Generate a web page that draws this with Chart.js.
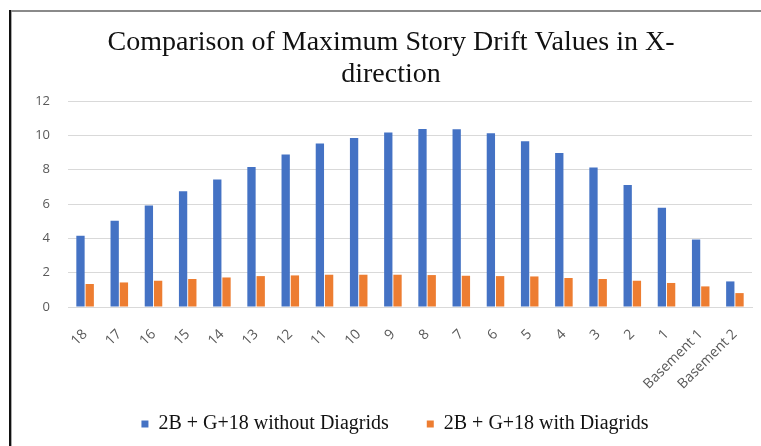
<!DOCTYPE html>
<html lang="en">
<head>
    <meta charset="utf-8">
    <title>Story Drift X</title>
    <script src="https://cdn.jsdelivr.net/npm/chart.js"></script>
    <style>
        body {
            margin: 0;
            background: #fff;
        }
    </style>
</head>
<body>
<canvas id="driftChart" width="761" height="446"></canvas>

<script>
    // data
    const stories = ['18', '17', '16', '15', '14', '13', '12', '11', '10', '9', '8', '7', '6', '5', '4', '3', '2', '1', 'Basement 1', 'Basement 2'];
    const withoutDiagrids = [4.15, 5.02, 5.91, 6.74, 7.42, 8.16, 8.88, 9.52, 9.84, 10.16, 10.37, 10.35, 10.12, 9.65, 8.97, 8.12, 7.11, 5.78, 3.93, 1.49];
    const withDiagrids = [1.34, 1.43, 1.53, 1.63, 1.72, 1.80, 1.84, 1.88, 1.88, 1.88, 1.86, 1.82, 1.80, 1.78, 1.69, 1.63, 1.53, 1.40, 1.20, 0.81];
    const yTicks = [0, 2, 4, 6, 8, 10, 12];
    const titleLines = ['Comparison of Maximum Story Drift Values in X-', 'direction'];

    const serif = '"Liberation Serif", "Times New Roman", serif';
    const sans = '"Open Sans", "Liberation Sans", sans-serif';

    // outer frame, two-line title, legend nudge
    const frameAndTitle = {
        id: 'frameAndTitle',
        afterLayout(chart) {
            // let the rotated labels run past the axis box instead of being clipped
            chart.scales.x.bottom = chart.height;
            chart.legend.left += 19;
            chart.legend.right += 19;
        },
        beforeDraw(chart) {
            const ctx = chart.ctx;
            ctx.save();
            ctx.fillStyle = '#fff';
            ctx.fillRect(0, 0, chart.width, chart.height);
            ctx.fillStyle = '#8a8a8a';
            ctx.fillRect(9, 10, chart.width - 9, 2);
            ctx.fillStyle = '#111';
            ctx.fillRect(9, 10, 2, chart.height - 10);
            ctx.fillStyle = '#aaa';
            ctx.fillRect(11, 12, 1, chart.height - 12);
            ctx.restore();
        },
        afterDraw(chart) {
            const ctx = chart.ctx;
            ctx.save();
            ctx.font = '28px ' + serif;
            ctx.fillStyle = '#111';
            ctx.textBaseline = 'alphabetic';
            ctx.textAlign = 'center';
            ctx.fillText(titleLines[0], 391, 50);
            ctx.fillText(titleLines[1], 391, 82);
            ctx.restore();
        }
    };

    const ctx = document.getElementById('driftChart').getContext('2d');
    new Chart(ctx, {
        type: 'bar',
        data: {
            labels: stories,
            datasets: [{
                label: '2B + G+18 without Diagrids',
                data: withoutDiagrids,
                backgroundColor: '#4472C4',
                categoryPercentage: 0.54,
                barPercentage: 0.9
            }, {
                label: '2B + G+18 with Diagrids',
                data: withDiagrids,
                backgroundColor: '#ED7D31',
                categoryPercentage: 0.54,
                barPercentage: 0.9
            }]
        },
        options: {
            responsive: false,
            animation: false,
            layout: {
                padding: {top: 101, right: 9, left: 0, bottom: 8}
            },
            scales: {
                x: {
                    grid: {display: false},
                    border: {color: '#d9d9d9'},
                    ticks: {
                        color: '#595959',
                        font: {family: sans, size: 14},
                        minRotation: 45,
                        maxRotation: 45,
                        padding: 11
                    },
                    afterFit(scale) {
                        scale.height = 69;
                    }
                },
                y: {
                    min: 0,
                    max: 12,
                    afterBuildTicks(scale) {
                        scale.ticks = yTicks.map(v => ({value: v}));
                    },
                    grid: {color: '#d9d9d9', drawTicks: false},
                    border: {display: false},
                    ticks: {
                        color: '#595959',
                        font: {family: sans, size: 13},
                        padding: 18
                    },
                    afterFit(scale) {
                        scale.width = 68;
                    }
                }
            },
            plugins: {
                legend: {
                    position: 'bottom',
                    maxHeight: 62,
                    labels: {
                        color: '#111',
                        font: {family: serif, size: 20},
                        boxWidth: 7,
                        boxHeight: 7,
                        padding: 38
                    }
                },
                title: {display: false},
                tooltip: {enabled: false}
            }
        },
        plugins: [frameAndTitle]
    });
</script>
</body>
</html>
